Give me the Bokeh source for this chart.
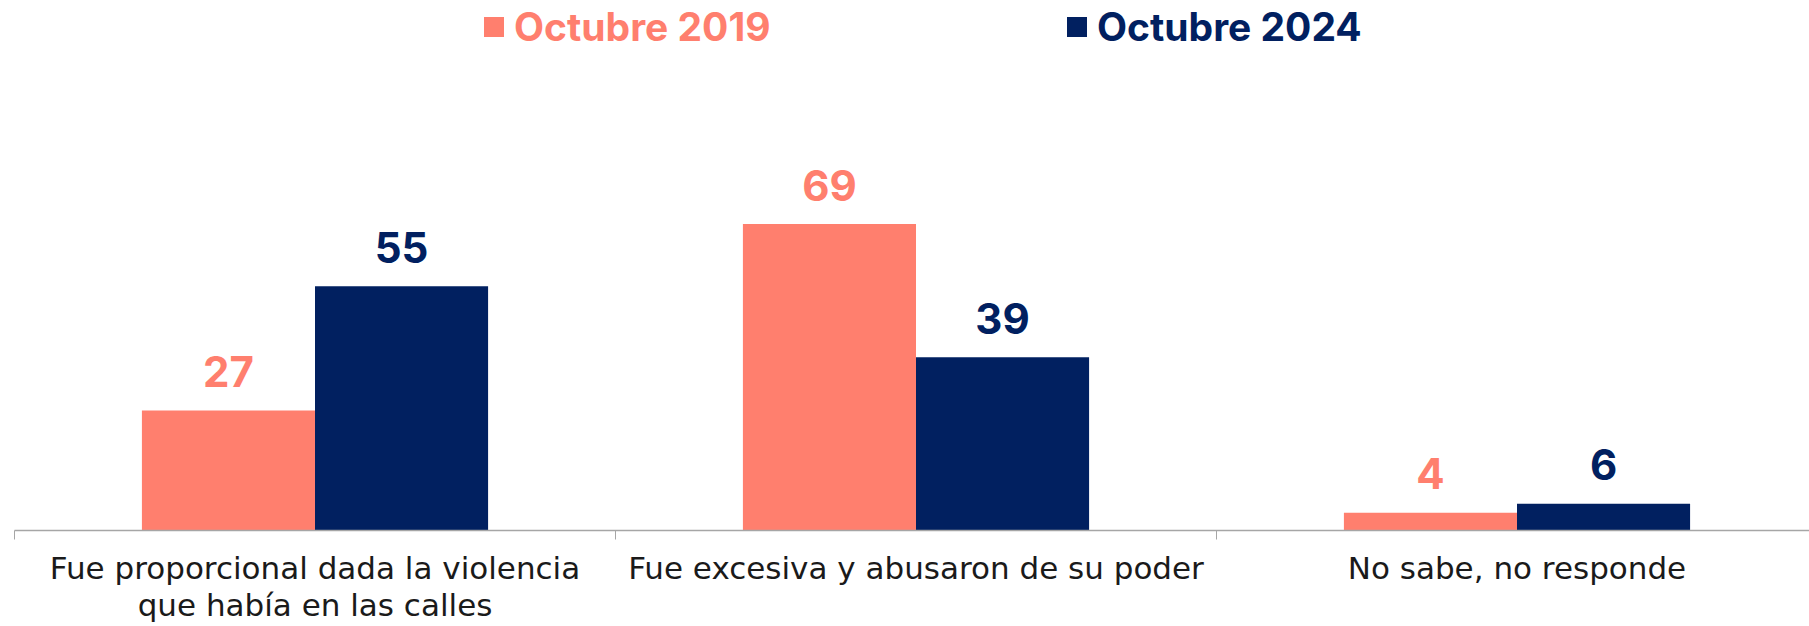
from bokeh.plotting import figure
from bokeh.models import ColumnDataSource, FixedTicker, Range1d, Legend, LegendItem
from bokeh.transform import dodge
from bokeh.core.properties import value
from bokeh.embed import file_html
from bokeh.resources import INLINE

categories = ["Fue proporcional dada la violencia\nque había en las calles",
              "Fue excesiva y abusaron de su poder",
              "No sabe, no responde"]
series_names = ["Octubre 2019", "Octubre 2024"]
values_2019 = [27, 69, 4]
values_2024 = [55, 39, 6]

C19 = "#FF7F6E"
C24 = "#012060"
BOLD_FONT = "Inter"
REG_FONT = "DejaVu Sans"

centers = [i + 0.5 for i in range(len(categories))]
src = ColumnDataSource(dict(x=centers, v19=values_2019, v24=values_2024,
                            l19=[str(v) for v in values_2019],
                            l24=[str(v) for v in values_2024]))

p = figure(width=1809, height=626, output_backend="svg", toolbar_location=None,
           x_range=Range1d(0, 1795 / 601), y_range=Range1d(0, 531 / 4.45),
           min_border_left=14, min_border_right=0, min_border_top=0, min_border_bottom=95)
p.outline_line_color = None
p.grid.visible = False
p.yaxis.visible = False

w = 0.288
r19 = p.vbar(x=dodge("x", -w / 2, range=p.x_range), top="v19", width=w, bottom=0,
             source=src, fill_color=C19, line_color=None)
r24 = p.vbar(x=dodge("x", w / 2, range=p.x_range), top="v24", width=w, bottom=0,
             source=src, fill_color=C24, line_color=None)

for col, lab, off, c in (("v19", "l19", -w / 2, C19), ("v24", "l24", w / 2, C24)):
    p.text(x=dodge("x", off, range=p.x_range), y=col, text=lab, source=src,
           text_align="center", text_baseline="alphabetic", y_offset=-39,
           text_color=c, text_font=value(BOLD_FONT), text_font_style="bold",
           text_font_size="42px")

ax = p.xaxis[0]
ax.ticker = FixedTicker(ticks=centers, minor_ticks=[0, 1, 2, 3])
ax.major_label_overrides = {c: lab for c, lab in zip(centers, categories)}
ax.major_tick_line_color = None
ax.major_tick_out = 0
ax.minor_tick_out = 9
ax.minor_tick_in = 0
ax.minor_tick_line_color = "#A6A6A6"
ax.axis_line_color = "#A6A6A6"
ax.axis_line_width = 1.5
ax.major_label_text_font = REG_FONT
ax.major_label_text_font_size = "31px"
ax.major_label_text_line_height = 1.05
ax.major_label_text_color = "#1a1a1a"
ax.major_label_standoff = 10

for name, r, c, loc in ((series_names[0], r19, C19, (467, 480)),
                        (series_names[1], r24, C24, (1050, 480))):
    lg = Legend(items=[LegendItem(label=name, renderers=[r])],
                location=loc, border_line_color=None, background_fill_alpha=0,
                padding=0, margin=0, glyph_width=25, glyph_height=25, label_standoff=8,
                label_text_font=BOLD_FONT, label_text_font_style="bold",
                label_text_color=c, label_text_font_size="39px", label_height=40)
    p.add_layout(lg, "center")

open("out.html", "w").write(file_html(p, INLINE))
